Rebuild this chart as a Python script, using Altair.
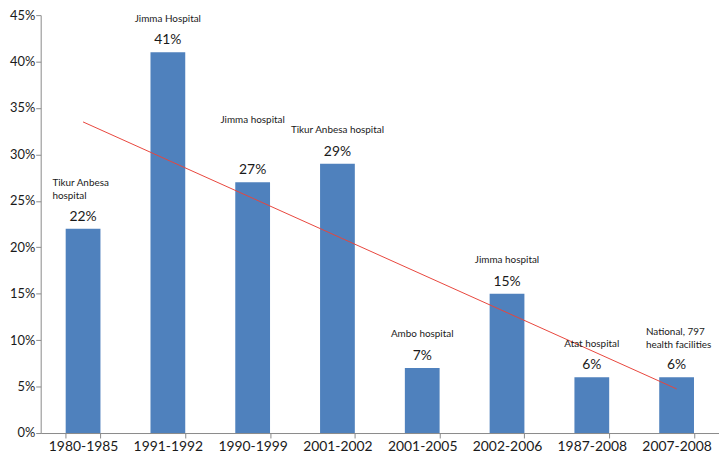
import json
import altair as alt
import pandas as pd

periods = ["1980-1985", "1991-1992", "1990-1999", "2001-2002",
           "2001-2005", "2002-2006", "1987-2008", "2007-2008"]
rates = [22, 41, 27, 29, 7, 15, 6, 6]
sites = ["Tikur Anbesa\nhospital", "Jimma Hospital", "Jimma  hospital",
         "Tikur Anbesa  hospital", "Ambo hospital", "Jimma hospital",
         "Atat  hospital", "National, 797\nhealth facilities"]
y_ticks = [0, 5, 10, 15, 20, 25, 30, 35, 40, 45]

df = pd.DataFrame({"period": periods, "rate": rates, "site": sites,
                   "idx": list(range(len(periods)))})

FONT = "Lato"
TXT = "#1a1a1a"
AX = "#8a8a8a"

x = alt.X("period:N", sort=periods,
          scale=alt.Scale(paddingInner=0.59, paddingOuter=0.295),
          axis=alt.Axis(title=None, labelAngle=0, tickBand="extent",
                        domainColor=AX, tickColor=AX, tickSize=5,
                        labelPadding=2, labelFontSize=14, labelFont=FONT,
                        labelColor=TXT))
y = alt.Y("rate:Q", scale=alt.Scale(domain=[0, 45], nice=False),
          axis=alt.Axis(title=None, values=y_ticks, grid=False,
                        labelExpr="datum.value + '%'",
                        domainColor=AX, tickColor=AX, tickSize=5,
                        labelPadding=1, labelFontSize=13, labelFont=FONT,
                        labelColor=TXT))

base = alt.Chart(df)

bars = base.mark_bar(color="#4F81BD").encode(x=x, y=y)

vals = base.transform_calculate(lab="datum.rate + '%'").mark_text(
    baseline="bottom", dy=-5, fontSize=14, font=FONT, color=TXT
).encode(x=x, y=y, text="lab:N")

multi = ["1980-1985", "2007-2008"]
high = ["1990-1999"]
single = [p for p in periods if p not in multi + high]

notes_single = base.transform_filter(
    alt.FieldOneOfPredicate(field="period", oneOf=single)
).mark_text(baseline="bottom", dy=-29, fontSize=10, font=FONT, color=TXT
).encode(x=x, y=y, text="site:N")

notes_high = base.transform_filter(
    alt.FieldOneOfPredicate(field="period", oneOf=high)
).mark_text(baseline="bottom", dy=-58, fontSize=10, font=FONT, color=TXT
).encode(x=x, y=y, text="site:N")

notes_multi = base.transform_filter(
    alt.FieldOneOfPredicate(field="period", oneOf=multi)
).mark_text(baseline="bottom", align="left", dx=-31, dy=-41, fontSize=10,
            font=FONT, color=TXT, lineBreak="\n", lineHeight=13
).encode(x=x, y=y, text="site:N")

trend = base.transform_regression("idx", "rate", method="linear").transform_calculate(
    period=json.dumps(periods) + "[datum.idx]"
).mark_line(color="#E8453C", strokeWidth=1).encode(x=x, y=y)

chart = alt.layer(bars, trend, vals, notes_single, notes_high, notes_multi).properties(
    width=685, height=422,
    autosize=alt.AutoSizeParams(type="none"),
    padding={"left": 33, "top": 5, "right": 0, "bottom": 22},
).configure_view(stroke=None)

chart.save("out.html", embed_options={"renderer": "svg", "actions": False})
